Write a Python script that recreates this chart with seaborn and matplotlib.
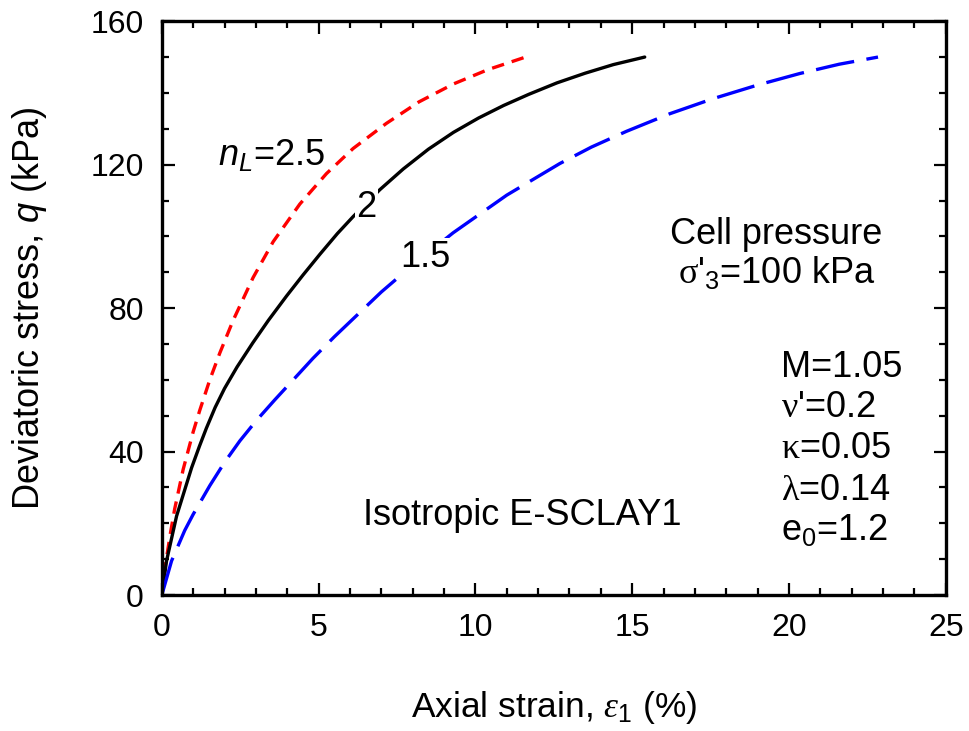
import matplotlib
matplotlib.use("Agg")
import matplotlib.pyplot as plt
import seaborn as sns
import numpy as np
import pandas as pd
from matplotlib.ticker import MultipleLocator

# ---------------- data ----------------
red_x = [0, 0.1, 0.26, 0.41, 0.68, 1.0, 1.21, 1.53, 1.85, 2.27, 2.91, 3.55, 4.4, 5.25,
         6.1, 7.16, 8.2, 9.3, 10.4, 11.6]
red_y = [0, 7.5, 16.5, 24, 35, 45.5, 51.5, 60, 67.5, 76.5, 88.5, 98.5, 109, 117.5,
         124.5, 131.5, 137.5, 142.5, 146.5, 150]

black_x = [0, 0.15, 0.47, 0.95, 1.2, 1.42, 1.7, 2.0, 2.4, 2.9, 3.4, 3.98, 4.5, 5.04,
           5.6, 6.1, 6.95, 7.7, 8.5, 9.3, 10.1, 10.9, 11.7, 12.6, 13.5, 14.4, 15.4]
black_y = [0, 9.5, 22, 35.5, 41.5, 46.5, 52.3, 57.6, 63.6, 70.3, 76.6, 83.4, 89.2, 95,
           100.8, 105.5, 113, 118.8, 124.3, 129, 133, 136.5, 139.6, 142.8, 145.5, 147.9, 150]

blue_x = [0, 0.31, 0.73, 1.0, 1.53, 2.0, 2.49, 3.0, 3.6, 4.19, 4.82, 5.5, 6.1, 7.0,
          8.0, 9.29, 11.0, 12.69, 13.7, 14.82, 16.2, 17.58, 19.0, 20.34, 21.6, 22.84]
blue_y = [0, 9.5, 18, 22.5, 30.5, 37, 43, 48.5, 54.4, 60, 66, 72, 77, 84.5,
          92, 101, 111.5, 120.3, 124.9, 129.3, 134.2, 138.4, 142.2, 145.4, 148, 150]

x_ticks = [0, 5, 10, 15, 20, 25]
y_ticks = [0, 40, 80, 120, 160]

# ---------------- style ----------------
sns.set_theme(style="ticks")
plt.rcParams["font.family"] = ["Liberation Sans", "DejaVu Sans"]
plt.rcParams["mathtext.fontset"] = "custom"
plt.rcParams["mathtext.rm"] = "Liberation Sans"
plt.rcParams["mathtext.it"] = "Liberation Sans:italic"
plt.rcParams["mathtext.sf"] = "Liberation Serif"
plt.rcParams["mathtext.cal"] = "Liberation Serif:italic"
plt.rcParams["lines.scale_dashes"] = False
plt.rcParams["text.color"] = "black"
plt.rcParams["axes.labelcolor"] = "black"
plt.rcParams["xtick.color"] = "black"
plt.rcParams["ytick.color"] = "black"

fig = plt.figure(figsize=(9.69, 7.31), dpi=100)
ax = fig.add_axes([0.167, 0.186, 0.809, 0.785])

sns.lineplot(x=red_x, y=red_y, ax=ax, color="#ff0000", lw=2.4,
             linestyle=(0, (9, 5.8)), estimator=None, sort=False)
sns.lineplot(x=black_x, y=black_y, ax=ax, color="black", lw=2.4,
             linestyle="-", estimator=None, sort=False)
sns.lineplot(x=blue_x, y=blue_y, ax=ax, color="#0000ff", lw=2.4,
             linestyle=(0, (28, 9)), estimator=None, sort=False)

ax.set_xlim(0, 25)
ax.set_ylim(0, 160)
ax.set_xticks(x_ticks)
ax.set_yticks(y_ticks)
ax.set_xticklabels([str(v) for v in x_ticks])
ax.set_yticklabels([str(v) for v in y_ticks])
ax.xaxis.set_minor_locator(MultipleLocator(1))
ax.yaxis.set_minor_locator(MultipleLocator(10))
ax.tick_params(which="both", direction="in", top=True, right=True,
               labelsize=23, colors="black")
ax.tick_params(which="major", length=9, width=1.6, pad=13)
ax.tick_params(which="minor", length=5, width=1.6)
for s in ax.spines.values():
    s.set_linewidth(2.4)
    s.set_color("black")
    s.set_visible(True)

ax.set_xlabel(r"Axial strain, $\mathcal{\varepsilon}_1$ (%)", fontsize=25.5, labelpad=33)
ax.set_ylabel(r"Deviatoric stress, $q$ (kPa)", fontsize=26, labelpad=30)

# ---------------- annotations ----------------
fs = 26
wbox = dict(facecolor="white", edgecolor="none", pad=1)
ax.text(1.8, 120, r"$n_L$=2.5", fontsize=fs, va="baseline", ha="left")
ax.text(6.2, 105.5, "2", fontsize=fs, va="baseline", ha="left", bbox=wbox, zorder=5)
ax.text(7.6, 91.5, "1.5", fontsize=fs, va="baseline", ha="left", bbox=wbox, zorder=5)
ax.text(19.6, 98, "Cell pressure", fontsize=fs, va="baseline", ha="center")
ax.text(19.6, 87, r"$\mathsf{\sigma}$'$_3$=100 kPa", fontsize=fs, va="baseline", ha="center")
params = [r"M=1.05", r"$\mathsf{\nu}$'=0.2", r"$\mathsf{\kappa}$=0.05",
          r"$\mathsf{\lambda}$=0.14", r"e$_0$=1.2"]
py = [60.8, 49.6, 38.2, 26.5, 15.3]
for t, yv in zip(params, py):
    ax.text(19.75, yv, t, fontsize=fs, va="baseline", ha="left")
ax.text(6.4, 19.5, "Isotropic E-SCLAY1", fontsize=fs, va="baseline", ha="left")

fig.savefig("out.png", dpi=100)
